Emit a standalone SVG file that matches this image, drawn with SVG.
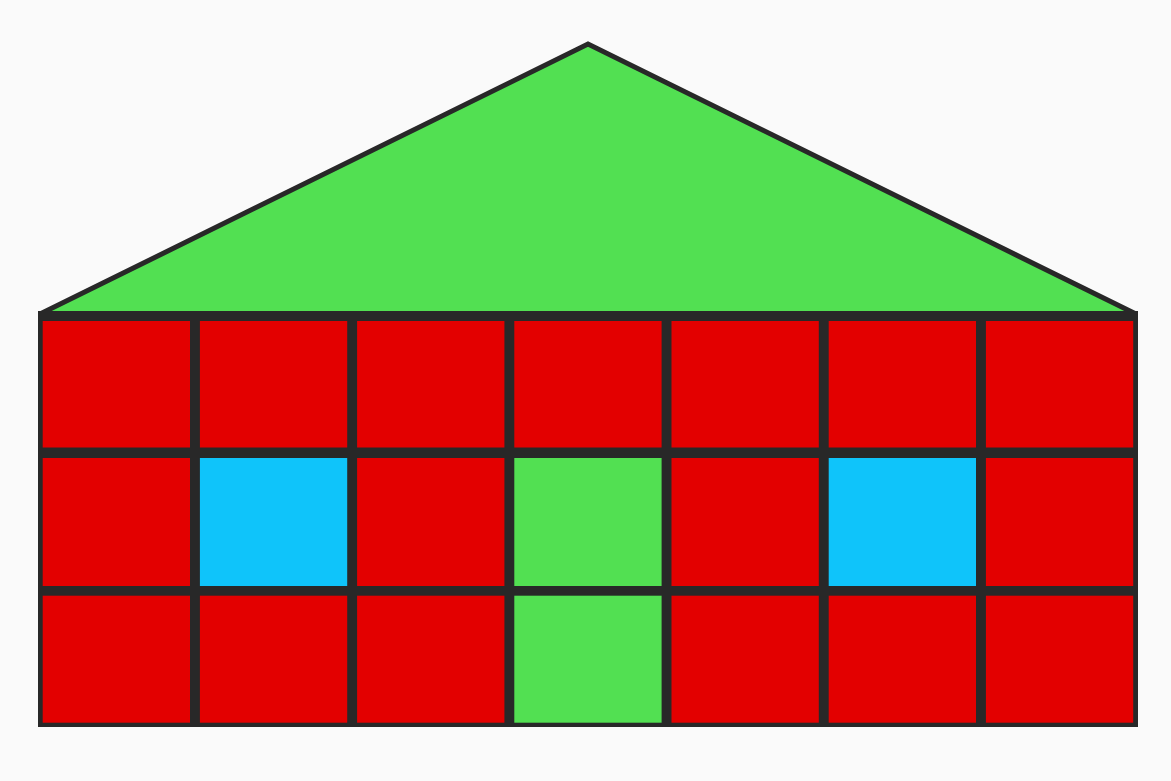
<svg xmlns="http://www.w3.org/2000/svg" width="1171" height="781" viewBox="0 0 1171 781">
<style>
.r{fill:#e30000}
.g{fill:#52e052}
.b{fill:#0fc4fa}
</style>
<rect x="0" y="0" width="1171" height="781" fill="#fafafa"/>
<polygon id="roof" points="40,314 588,44 1136,314" fill="#52e052" stroke="#282828" stroke-width="5" stroke-linejoin="miter"/>
<g id="body">
<rect x="38" y="311" width="1100" height="416" fill="#282828"/>
<g transform="translate(42.7,321)">
<rect class="r" x="0" y="0" width="147.3" height="126.5"/>
<rect class="r" x="157.2" y="0" width="147.3" height="126.5"/>
<rect class="r" x="314.4" y="0" width="147.3" height="126.5"/>
<rect class="r" x="471.6" y="0" width="147.3" height="126.5"/>
<rect class="r" x="628.8" y="0" width="147.3" height="126.5"/>
<rect class="r" x="786" y="0" width="147.3" height="126.5"/>
<rect class="r" x="943.2" y="0" width="147.3" height="126.5"/>
<rect class="r" x="0" y="137" width="147.3" height="128"/>
<rect class="b" x="157.2" y="137" width="147.3" height="128"/>
<rect class="r" x="314.4" y="137" width="147.3" height="128"/>
<rect class="g" x="471.6" y="137" width="147.3" height="128"/>
<rect class="r" x="628.8" y="137" width="147.3" height="128"/>
<rect class="b" x="786" y="137" width="147.3" height="128"/>
<rect class="r" x="943.2" y="137" width="147.3" height="128"/>
<rect class="r" x="0" y="274.7" width="147.3" height="127"/>
<rect class="r" x="157.2" y="274.7" width="147.3" height="127"/>
<rect class="r" x="314.4" y="274.7" width="147.3" height="127"/>
<rect class="g" x="471.6" y="274.7" width="147.3" height="127"/>
<rect class="r" x="628.8" y="274.7" width="147.3" height="127"/>
<rect class="r" x="786" y="274.7" width="147.3" height="127"/>
<rect class="r" x="943.2" y="274.7" width="147.3" height="127"/>
</g>
</g>
</svg>
